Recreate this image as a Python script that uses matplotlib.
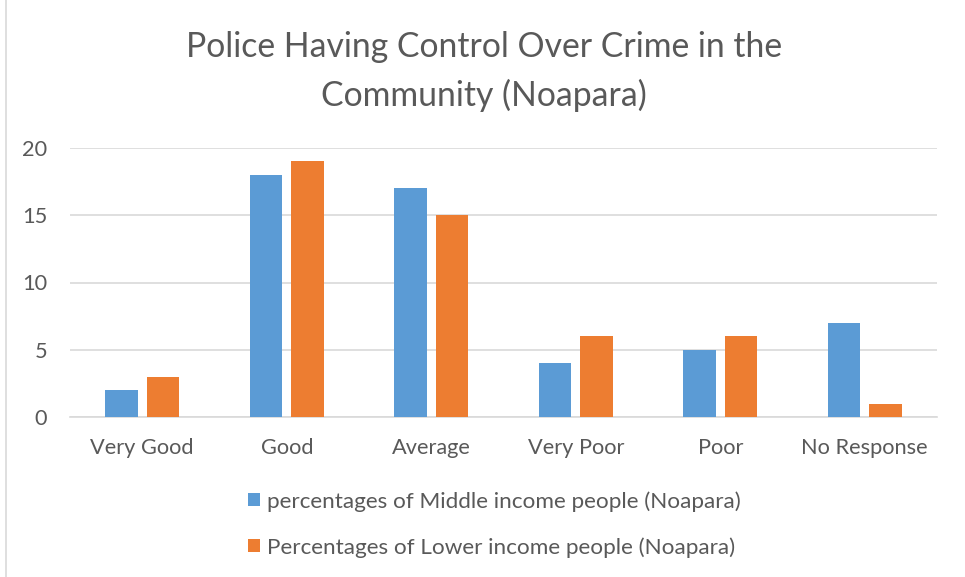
import matplotlib
matplotlib.use("Agg")
import matplotlib.pyplot as plt
import numpy as np
from matplotlib.patches import Patch
from matplotlib.lines import Line2D

categories = ["Very Good", "Good", "Average", "Very Poor", "Poor", "No Response"]
middle = [2, 18, 17, 4, 5, 7]
lower = [3, 19, 15, 6, 6, 1]
series_names = ["percentages of Middle income people (Noapara)",
                "Percentages of Lower income people (Noapara)"]
yticks = [0, 5, 10, 15, 20]

plt.rcParams['font.family'] = ['Lato', 'DejaVu Sans']
txt = "#595959"
blue = "#5B9BD5"
orange = "#ED7D31"

W, H = 965, 577
fig = plt.figure(figsize=(W/100, H/100), dpi=100)
ax = fig.add_axes([70/W, 1-417/H, (937-70)/W, (417-148)/H])

x = np.arange(len(categories))
bw = 0.228
off = 0.1436
ax.bar(x - off, middle, bw, color=blue, zorder=3)
ax.bar(x + off, lower, bw, color=orange, zorder=3)

ax.set_xlim(-0.5, len(categories) - 0.5)
ax.set_ylim(0, 20)
ax.set_yticks(yticks)
ax.set_xticks(x)
ax.set_xticklabels(categories)
ax.yaxis.grid(True, color="#D9D9D9", linewidth=1.2, zorder=0)
for s in ["top", "right", "left"]:
    ax.spines[s].set_visible(False)
ax.spines["bottom"].set_color("#D9D9D9")
ax.spines["bottom"].set_linewidth(1.2)
ax.tick_params(axis="both", length=0, labelsize=15.7, colors=txt)
ax.tick_params(axis="y", pad=16.5)
ax.tick_params(axis="x", pad=15)

fig.text(484/W, 1-47/H, "Police Having Control Over Crime in the", ha="center", va="center",
         fontsize=24.3, color=txt)
fig.text(484/W, 1-95/H, "Community (Noapara)", ha="center", va="center",
         fontsize=24.3, color=txt)

handles = [Patch(facecolor=blue), Patch(facecolor=orange)]
leg = fig.legend(handles, series_names, loc="upper left", bbox_to_anchor=(237/W, 1-480/H),
                 frameon=False, fontsize=16.2, handlelength=0.5, handleheight=0.5,
                 handletextpad=0.35, labelspacing=1.12, borderpad=0)
for t in leg.get_texts():
    t.set_color(txt)

fig.add_artist(Line2D([6/W, 6/W], [0, 1], color="#D9D9D9", linewidth=1.2))

fig.savefig("out.png", dpi=100)
